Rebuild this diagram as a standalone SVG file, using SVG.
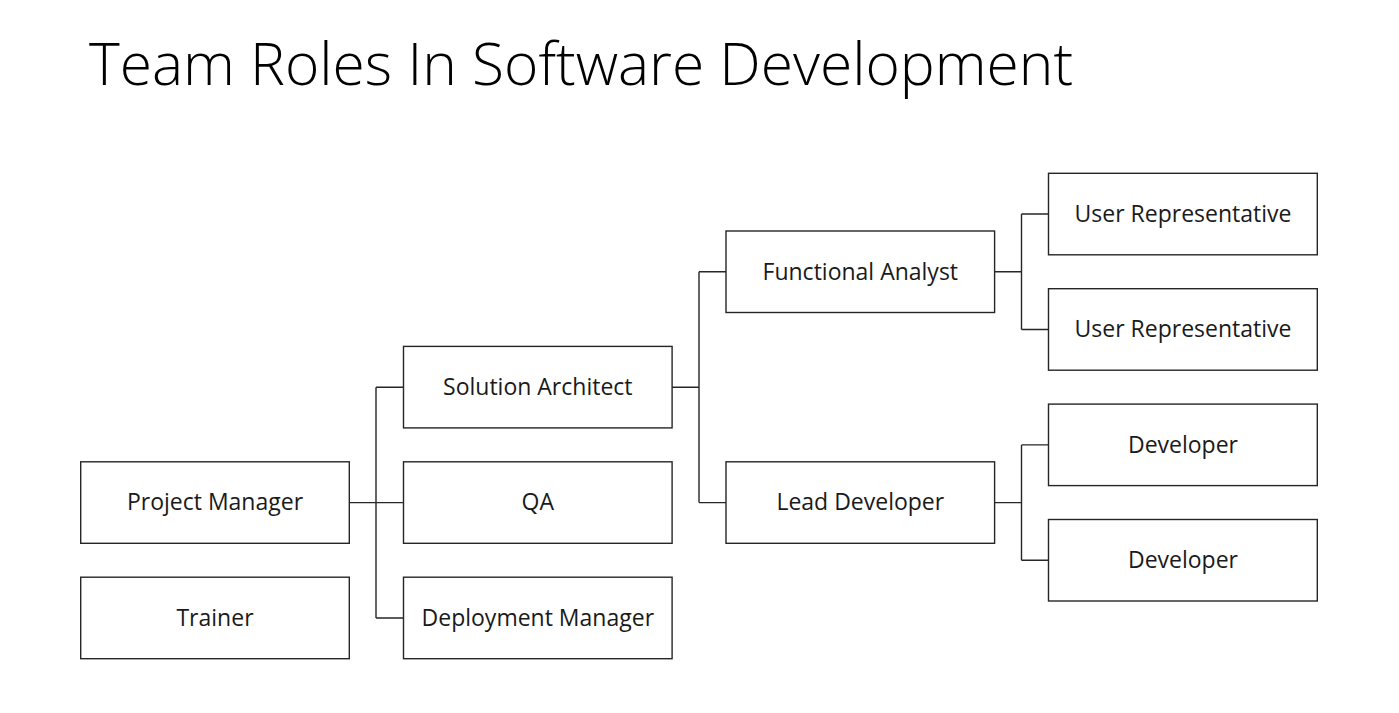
<svg xmlns="http://www.w3.org/2000/svg" width="1399" height="713" viewBox="0 0 1399 713">
<style>
.box{fill:#ffffff;stroke:#262626;stroke-width:1.4}
.lbl{font-family:"Open Sans","Liberation Sans",sans-serif;font-size:23px;fill:#1a1a1a;text-anchor:middle}
.con{fill:none;stroke:#262626;stroke-width:1.4}
.title{font-family:"Open Sans","Liberation Sans",sans-serif;font-weight:300;font-size:58px;fill:#000000}
</style>
<rect width="1399" height="713" fill="#ffffff"/>
<text class="title" x="89" y="85" textLength="984" lengthAdjust="spacingAndGlyphs">Team Roles In Software Development</text>
<g id="connectors">
<path class="con" d="M349.3,502.6 H376 M376,387.2 V618 M376,387.2 H403.5 M376,502.6 H403.5 M376,618 H403.5"/>
<path class="con" d="M672.1,387.2 H699 M699,271.8 V502.6 M699,271.8 H726 M699,502.6 H726"/>
<path class="con" d="M994.6,271.8 H1021.5 M1021.5,214 V329.5 M1021.5,214 H1048.5 M1021.5,329.5 H1048.5"/>
<path class="con" d="M994.6,502.6 H1021.5 M1021.5,444.9 V560.3 M1021.5,444.9 H1048.5 M1021.5,560.3 H1048.5"/>
</g>
<g id="project-manager"><rect class="box" x="80.7" y="461.8" width="268.6" height="81.5"/><text class="lbl" x="215" y="510.4">Project Manager</text></g>
<g id="trainer"><rect class="box" x="80.7" y="577.2" width="268.6" height="81.5"/><text class="lbl" x="215" y="625.8">Trainer</text></g>
<g id="solution-architect"><rect class="box" x="403.5" y="346.4" width="268.6" height="81.5"/><text class="lbl" x="537.8" y="395">Solution Architect</text></g>
<g id="qa"><rect class="box" x="403.5" y="461.8" width="268.6" height="81.5"/><text class="lbl" x="537.8" y="510.4">QA</text></g>
<g id="deployment-manager"><rect class="box" x="403.5" y="577.2" width="268.6" height="81.5"/><text class="lbl" x="537.8" y="625.8">Deployment Manager</text></g>
<g id="functional-analyst"><rect class="box" x="726" y="231" width="268.6" height="81.5"/><text class="lbl" x="860.3" y="279.6">Functional Analyst</text></g>
<g id="lead-developer"><rect class="box" x="726" y="461.8" width="268.6" height="81.5"/><text class="lbl" x="860.3" y="510.4">Lead Developer</text></g>
<g id="user-rep-1"><rect class="box" x="1048.5" y="173.3" width="268.8" height="81.5"/><text class="lbl" x="1183" y="221.8">User Representative</text></g>
<g id="user-rep-2"><rect class="box" x="1048.5" y="288.7" width="268.8" height="81.5"/><text class="lbl" x="1183" y="337.3">User Representative</text></g>
<g id="developer-1"><rect class="box" x="1048.5" y="404.1" width="268.8" height="81.5"/><text class="lbl" x="1183" y="452.7">Developer</text></g>
<g id="developer-2"><rect class="box" x="1048.5" y="519.5" width="268.8" height="81.5"/><text class="lbl" x="1183" y="568.1">Developer</text></g>
</svg>
